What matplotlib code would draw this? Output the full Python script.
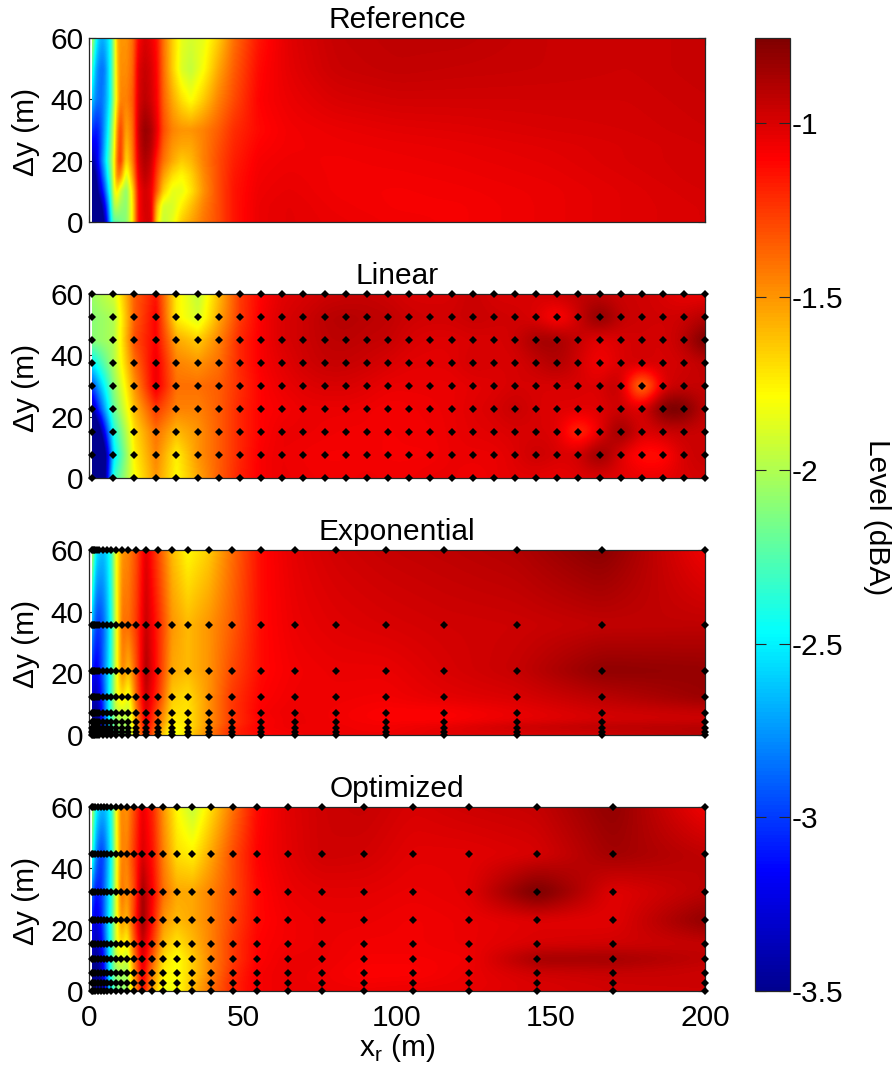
# Level maps for four receiver grids.
import numpy as np
import matplotlib
matplotlib.use("Agg")
import matplotlib.pyplot as plt
from matplotlib.cm import ScalarMappable
from matplotlib.colors import LinearSegmentedColormap, Normalize

plt.rcParams['font.family'] = ['Liberation Sans', 'DejaVu Sans']
plt.rcParams['mathtext.fontset'] = 'custom'
plt.rcParams['mathtext.rm'] = 'Liberation Sans'

# Reference panel: no receivers drawn, fine sampling of the field.
ref_x = [1, 1.5, 2, 3, 4, 5, 6, 7, 8, 9, 10, 12, 14, 16, 18, 20, 22, 24, 27, 30, 33, 37, 42, 47, 55, 65, 80, 100, 120, 150, 175, 200]
ref_y = [60, 50, 40, 30, 25, 20, 15, 10, 5, 0]
ref_levels = [
    [-1.95, -2.2, -2.4, -2.6, -2.7, -2.65, -2.55, -2.4, -2.0, -1.6, -1.5, -1.5, -1.4, -1.1, -1.0, -1.05, -1.15, -1.4, -1.65, -1.85, -1.9, -1.85, -1.65, -1.4, -1.15, -1.02, -.95, -.93, -.93, -.96, -.97, -.95],
    [-2.3, -2.5, -2.65, -2.8, -2.85, -2.8, -2.6, -2.4, -2.0, -1.65, -1.48, -1.48, -1.38, -1.02, -.95, -1.0, -1.12, -1.38, -1.65, -1.88, -1.95, -1.8, -1.55, -1.35, -1.12, -1.03, -.96, -.94, -.95, -.96, -.97, -.95],
    [-2.6, -2.7, -2.8, -2.85, -2.85, -2.75, -2.6, -2.4, -2.0, -1.7, -1.45, -1.45, -1.35, -1.0, -.92, -.98, -1.1, -1.35, -1.55, -1.7, -1.8, -1.65, -1.45, -1.3, -1.1, -1.05, -1.0, -.98, -.98, -.98, -.98, -.96],
    [-3.0, -3.05, -3.1, -3.05, -2.9, -2.7, -2.5, -2.2, -1.9, -1.5, -1.25, -1.55, -1.4, -.95, -.82, -.88, -1.05, -1.3, -1.45, -1.5, -1.5, -1.45, -1.35, -1.22, -1.12, -1.07, -1.05, -1.03, -1.02, -1.0, -.99, -.97],
    [-3.2, -3.2, -3.2, -3.1, -2.9, -2.65, -2.42, -2.15, -1.85, -1.45, -1.22, -1.62, -1.42, -.97, -.84, -.9, -1.1, -1.35, -1.5, -1.55, -1.55, -1.45, -1.32, -1.2, -1.1, -1.07, -1.06, -1.05, -1.04, -1.02, -1.0, -.98],
    [-3.4, -3.4, -3.3, -3.1, -2.85, -2.6, -2.35, -2.1, -1.8, -1.4, -1.2, -1.7, -1.45, -1.0, -.88, -.95, -1.2, -1.4, -1.55, -1.65, -1.6, -1.45, -1.3, -1.18, -1.08, -1.06, -1.07, -1.06, -1.05, -1.03, -1.0, -.98],
    [-3.6, -3.6, -3.5, -3.25, -3.0, -2.75, -2.45, -2.2, -1.8, -1.45, -1.45, -1.9, -1.55, -1.05, -.92, -1.0, -1.28, -1.52, -1.7, -1.78, -1.68, -1.48, -1.3, -1.16, -1.07, -1.05, -1.07, -1.07, -1.06, -1.04, -1.01, -.98],
    [-3.8, -3.8, -3.7, -3.4, -3.2, -2.95, -2.6, -2.3, -1.85, -1.7, -1.9, -2.1, -1.7, -1.1, -.98, -1.05, -1.35, -1.65, -1.85, -1.85, -1.72, -1.5, -1.3, -1.15, -1.06, -1.04, -1.07, -1.08, -1.07, -1.05, -1.02, -.99],
    [-4.0, -4.0, -3.9, -3.7, -3.5, -3.2, -2.85, -2.4, -2.0, -1.95, -2.05, -2.1, -1.75, -1.1, -.98, -1.02, -1.6, -1.9, -1.9, -1.75, -1.62, -1.45, -1.3, -1.15, -1.05, -1.03, -1.06, -1.08, -1.08, -1.05, -1.02, -1.0],
    [-4.0, -4.0, -4.0, -3.9, -3.7, -3.4, -3.0, -2.5, -2.2, -2.2, -2.15, -2.1, -1.75, -1.1, -1.0, -1.0, -1.7, -1.95, -1.85, -1.65, -1.55, -1.42, -1.3, -1.15, -1.05, -1.03, -1.05, -1.07, -1.08, -1.05, -1.02, -1.0],
]

# Linear receiver spacing.
lin_x = [1, 7.9, 14.7, 21.6, 28.4, 35.3, 42.2, 49, 55.9, 62.8, 69.6, 76.5, 83.4, 90.2, 97.1, 104, 110.8, 117.7, 124.6, 131.4, 138.3, 145.2, 152, 158.9, 165.8, 172.7, 179.5, 186.4, 193.2, 200]
lin_y = [60, 52.5, 45, 37.5, 30, 22.5, 15, 7.5, 0]
lin_levels = [
    [-2.05, -1.9, -1.35, -1.15, -1.75, -1.95, -1.6, -1.25, -1.1, -1.02, -1.0, -.97, -.96, -.95, -.97, -1.0, -1.0, -1.0, -.95, -1.0, -1.0, -1.0, -.97, -.93, -.93, -.97, -.97, -1.0, -1.05, -1.05],
    [-2.1, -2.0, -1.35, -1.1, -1.75, -1.9, -1.55, -1.25, -1.08, -1.0, -.97, -.92, -.9, -.92, -.93, -.97, -.98, -.98, -.95, -.97, -.98, -1.0, -1.15, -.98, -.75, -.95, -.97, -.98, -.97, -.9],
    [-2.1, -2.0, -1.3, -1.1, -1.55, -1.65, -1.45, -1.2, -1.08, -1.0, -.97, -.93, -.92, -.94, -.95, -1.0, -1.02, -1.02, -1.0, -1.0, -.98, -.85, -.85, -.95, -1.05, -1.0, -.98, -1.0, -.93, -.72],
    [-2.5, -2.0, -1.4, -1.05, -1.45, -1.5, -1.4, -1.2, -1.08, -1.03, -.98, -.95, -.95, -.97, -1.0, -1.03, -1.03, -1.03, -.98, -1.0, -1.0, -.95, -.88, -.98, -1.1, -1.0, -.98, -1.0, -.98, -.93],
    [-2.95, -2.1, -1.5, -1.05, -1.4, -1.4, -1.35, -1.22, -1.1, -1.05, -1.02, -1.0, -1.0, -1.02, -1.05, -1.05, -1.05, -1.05, -1.03, -1.02, -.99, -1.0, -1.0, -1.0, -1.02, -.88, -1.6, -.98, -.95, -.95],
    [-3.4, -2.2, -1.6, -1.25, -1.45, -1.45, -1.35, -1.2, -1.1, -1.08, -1.05, -1.05, -1.05, -1.06, -1.08, -1.07, -1.06, -1.05, -1.02, -1.0, -.94, -1.0, -1.02, -1.02, -1.03, -.95, -1.05, -.72, -.72, -.95],
    [-4.2, -2.4, -1.7, -1.4, -1.6, -1.5, -1.35, -1.2, -1.1, -1.05, -1.05, -1.06, -1.07, -1.07, -1.08, -1.07, -1.07, -1.05, -1.03, -1.02, -1.0, -1.0, -1.0, -1.28, -1.05, -.78, -1.03, -.97, -.95, -.97],
    [-5.0, -2.55, -1.75, -1.45, -1.75, -1.5, -1.35, -1.2, -1.08, -1.05, -1.07, -1.08, -1.08, -1.07, -1.08, -1.08, -1.08, -1.05, -1.05, -1.05, -1.02, -.95, -1.0, -1.0, -.78, -1.02, -1.15, -1.15, -.98, -.95],
    [-5.2, -2.35, -1.8, -1.5, -1.78, -1.55, -1.35, -1.18, -1.08, -1.05, -1.06, -1.07, -1.07, -1.06, -1.07, -1.07, -1.05, -1.05, -1.07, -1.05, -1.03, -1.03, -1.05, -1.02, -1.0, -1.03, -1.05, -1.05, -1.0, -.98],
]

# Exponential receiver spacing.
exp_x = [1, 1.2, 1.5, 1.8, 2.5, 3.3, 4.4, 5.7, 7.1, 8.7, 10.7, 12.7, 15.3, 18.4, 22.5, 26.9, 32, 38.8, 46.3, 55.8, 66.9, 80.1, 96.3, 115.4, 138.8, 166.5, 200]
exp_y = [60, 35.6, 20.9, 12.2, 7.2, 4.1, 2.2, 1.1, 0]
exp_levels = [
    [-1.95, -2.05, -2.25, -2.4, -2.55, -2.6, -2.65, -2.55, -2.35, -1.8, -1.5, -1.45, -1.3, -1.02, -1.3, -1.6, -1.78, -1.65, -1.4, -1.12, -1.03, -.98, -.95, -.93, -.9, -.78, -1.07],
    [-2.65, -2.75, -2.85, -2.9, -3.0, -3.0, -2.9, -2.7, -2.4, -1.85, -1.4, -1.4, -1.25, -.95, -1.2, -1.5, -1.6, -1.5, -1.35, -1.12, -1.05, -1.02, -1.0, -.98, -.97, -.94, -.93],
    [-3.05, -3.1, -3.2, -3.2, -3.2, -3.1, -2.9, -2.65, -2.35, -1.85, -1.45, -1.6, -1.3, -.88, -1.2, -1.55, -1.6, -1.5, -1.3, -1.12, -1.07, -1.05, -1.05, -1.0, -.95, -.8, -.82],
    [-3.25, -3.3, -3.4, -3.4, -3.35, -3.2, -3.0, -2.65, -2.3, -1.85, -1.7, -1.85, -1.35, -.95, -1.25, -1.65, -1.7, -1.5, -1.25, -1.1, -1.06, -1.06, -1.07, -1.03, -1.0, -.92, -.83],
    [-3.4, -3.45, -3.5, -3.5, -3.5, -3.35, -3.05, -2.65, -2.3, -1.95, -1.9, -1.95, -1.45, -1.0, -1.35, -1.7, -1.72, -1.5, -1.25, -1.08, -1.05, -1.07, -1.1, -1.1, -1.05, -.98, -.95],
    [-3.5, -3.55, -3.6, -3.6, -3.55, -3.4, -3.1, -2.7, -2.3, -2.05, -2.0, -2.0, -1.5, -1.05, -1.4, -1.75, -1.72, -1.5, -1.25, -1.1, -1.05, -1.07, -1.1, -1.1, -1.05, -1.0, -.98],
    [-3.6, -3.6, -3.6, -3.6, -3.6, -3.45, -3.15, -2.75, -2.35, -2.1, -2.05, -2.05, -1.55, -1.08, -1.45, -1.8, -1.72, -1.48, -1.22, -1.08, -1.05, -1.05, -1.05, -1.0, -.9, -.85, -.85],
    [-3.6, -3.6, -3.6, -3.6, -3.6, -3.5, -3.2, -2.8, -2.4, -2.15, -2.1, -2.05, -1.55, -1.1, -1.5, -1.82, -1.7, -1.45, -1.2, -1.1, -1.07, -1.08, -1.1, -1.05, -1.03, -1.0, -.95],
    [-3.6, -3.6, -3.6, -3.6, -3.6, -3.5, -3.25, -2.85, -2.45, -2.2, -2.1, -2.05, -1.6, -1.1, -1.55, -1.85, -1.7, -1.45, -1.2, -1.12, -1.07, -1.05, -1.05, -1.03, -1.02, -.98, -.9],
]

# Optimized receiver spacing.
opt_x = [1, 1.4, 1.9, 2.8, 3.8, 4.9, 5.9, 7.3, 8.7, 10.4, 12.2, 14.5, 17.3, 20.6, 24.1, 28.5, 33.6, 39.5, 46.8, 54.5, 64.6, 75.6, 89.3, 105.1, 123.3, 145.5, 170.1, 200]
opt_y = [60, 44.6, 32.2, 23, 15.4, 10.3, 5.9, 2.7, 0]
opt_levels = [
    [-1.95, -2.15, -2.4, -2.55, -2.65, -2.65, -2.55, -2.35, -1.8, -1.45, -1.5, -1.3, -1.05, -1.2, -1.5, -1.78, -1.95, -1.7, -1.4, -1.12, -1.02, -.97, -.95, -1.0, -.97, -.95, -.8, -1.07],
    [-2.3, -2.5, -2.7, -2.9, -3.0, -2.9, -2.7, -2.4, -1.85, -1.45, -1.45, -1.25, -1.0, -1.15, -1.45, -1.7, -1.75, -1.55, -1.3, -1.1, -1.03, -.97, -.98, -1.03, -1.03, -1.0, -.85, -.93],
    [-2.85, -2.95, -3.1, -3.1, -3.05, -2.85, -2.65, -2.35, -1.85, -1.4, -1.5, -1.3, -.85, -1.1, -1.4, -1.55, -1.55, -1.45, -1.3, -1.12, -1.05, -1.03, -1.03, -1.05, -1.03, -.72, -1.03, -.92],
    [-3.1, -3.2, -3.3, -3.2, -3.1, -2.85, -2.6, -2.3, -1.85, -1.5, -1.6, -1.25, -.83, -1.15, -1.5, -1.6, -1.55, -1.45, -1.28, -1.12, -1.07, -1.05, -1.05, -1.07, -1.05, -1.02, -1.03, -.8],
    [-3.25, -3.3, -3.4, -3.35, -3.2, -2.95, -2.65, -2.3, -1.85, -1.7, -1.8, -1.35, -.95, -1.25, -1.6, -1.72, -1.6, -1.45, -1.25, -1.1, -1.07, -1.05, -1.07, -1.07, -1.05, -1.0, -.98, -.95],
    [-3.4, -3.45, -3.5, -3.45, -3.3, -3.05, -2.7, -2.3, -1.95, -1.85, -1.95, -1.45, -1.0, -1.35, -1.7, -1.8, -1.65, -1.45, -1.25, -1.1, -1.05, -1.05, -1.08, -1.08, -1.07, -.85, -.85, -.93],
    [-3.5, -3.55, -3.55, -3.5, -3.4, -3.1, -2.75, -2.3, -2.05, -2.0, -2.05, -1.5, -1.05, -1.45, -1.75, -1.8, -1.65, -1.45, -1.22, -1.08, -1.05, -1.06, -1.1, -1.1, -1.05, -.97, -.95, -.97],
    [-3.55, -3.55, -3.55, -3.55, -3.5, -3.2, -2.8, -2.35, -2.1, -2.05, -2.05, -1.55, -1.08, -1.5, -1.8, -1.8, -1.62, -1.42, -1.2, -1.08, -1.05, -1.06, -1.08, -1.07, -1.05, -1.0, -.97, -.95],
    [-3.6, -3.6, -3.6, -3.6, -3.55, -3.3, -2.85, -2.4, -2.15, -2.1, -2.05, -1.55, -1.1, -1.55, -1.85, -1.8, -1.6, -1.4, -1.2, -1.08, -1.05, -1.05, -1.06, -1.05, -1.04, -1.0, -.98, -.98],
]

y_ticks = [0, 20, 40, 60]
x_ticks = [0, 50, 100, 150, 200]
bar_ticks = [-3.5, -3, -2.5, -2, -1.5, -1]
bar_labels = ['-3.5', '-3', '-2.5', '-2', '-1.5', '-1']

V_MIN = -3.5
V_MAX = -0.755
W, H = 893, 1072
FONT = 21.5

# Same anchors as the old MATLAB jet, it starts a bit brighter than matplotlib's.
jet = LinearSegmentedColormap.from_list('mjet', [
    (0, (0, 0, 0.5625)), (0.125, (0, 0, 1)), (0.375, (0, 1, 1)),
    (0.625, (1, 1, 0)), (0.875, (1, 0, 0)), (1, (0.5, 0, 0))], N=256)
norm = Normalize(V_MIN, V_MAX)


# Make an axes from pixel edges.
def pixel_axes(fig, left, top, right, bottom):
    return fig.add_axes([left / W, 1 - bottom / H, (right - left) / W, (bottom - top) / H])


# Gaussian blur along one axis of a 2d array, padded with the edge values.
def blur(field, sigma, axis):
    half = int(3 * sigma)
    kernel = np.exp(-0.5 * (np.arange(-half, half + 1) / sigma) ** 2)
    kernel /= kernel.sum()
    pad = [(half, half) if a == axis else (0, 0) for a in range(2)]
    padded = np.pad(field, pad, mode='edge')
    return np.apply_along_axis(lambda line: np.convolve(line, kernel, mode='valid'), axis, padded)


# Put the table on a pixel grid so the map looks smooth, not faceted.
# Near the source the field changes fast, so only blur hard further out.
def to_image(x, y, levels):
    fine_x = np.linspace(1, 200, 614)
    fine_y = np.linspace(60, 0, 184)
    table = np.array(levels)
    rows = np.array([np.interp(fine_x, x, row) for row in table])
    field = np.array([np.interp(fine_y, y[::-1], rows[::-1, j]) for j in range(len(fine_x))]).T
    sharp = blur(blur(field, 1.2, 1), 1.2, 0)
    soft = blur(blur(field, 8, 1), 4, 0)
    weight = np.clip((fine_x - 45) / 25, 0, 1)
    return sharp * (1 - weight) + soft * weight


# One map with its title and, if given, the receivers.
def draw_panel(ax, x, y, levels, title, show_points, show_x):
    ax.imshow(to_image(x, y, levels), extent=(1, 200, 0, 60), aspect='auto', cmap=jet, norm=norm,
              interpolation='bilinear', zorder=1)
    if show_points:
        xx, yy = np.meshgrid(x, y)
        ax.plot(xx.ravel(), yy.ravel(), 'D', color='black', ms=3.8, mew=0, clip_on=False, zorder=5)
    ax.set_xlim(0, 200)
    ax.set_ylim(0, 60)
    ax.set_xticks(x_ticks)
    ax.set_yticks(y_ticks)
    ax.set_axisbelow(True)
    ax.tick_params(direction='in', length=5, width=0.8, labelsize=FONT, top=True, right=True, color='#262626')
    ax.tick_params(axis='x', pad=9)
    ax.tick_params(axis='y', pad=4)
    if not show_x:
        ax.tick_params(labelbottom=False)
    ax.set_ylabel('\u0394y (m)', fontsize=FONT)
    ax.yaxis.set_label_coords(-0.08, 0.49)
    ax.set_title(title, fontsize=FONT, pad=7)
    for side in ax.spines.values():
        side.set_linewidth(0.9)
        side.set_color('#262626')


def main():
    fig = plt.figure(figsize=(W / 100, H / 100), dpi=100)
    ax1 = pixel_axes(fig, 89, 38, 705, 222)
    ax2 = pixel_axes(fig, 89, 294, 705, 478)
    ax3 = pixel_axes(fig, 89, 550, 705, 735)
    ax4 = pixel_axes(fig, 89, 807, 705, 991)
    draw_panel(ax1, ref_x, ref_y, ref_levels, 'Reference', False, False)
    draw_panel(ax2, lin_x, lin_y, lin_levels, 'Linear', True, False)
    draw_panel(ax3, exp_x, exp_y, exp_levels, 'Exponential', True, False)
    draw_panel(ax4, opt_x, opt_y, opt_levels, 'Optimized', True, True)
    ax4.set_xlabel('x$_{\\mathrm{r}}$ (m)', fontsize=FONT, labelpad=0)

    # Colorbar with the ticks pointing in from both sides.
    cax = pixel_axes(fig, 755, 38, 790, 991)
    bar = fig.colorbar(ScalarMappable(norm=norm, cmap=jet), cax=cax)
    bar.set_ticks(bar_ticks)
    bar.set_ticklabels(bar_labels)
    bar.ax.tick_params(direction='in', length=8, width=0.8, labelsize=FONT, left=True, right=True, pad=1, color='#262626')
    bar.outline.set_linewidth(0.9)
    bar.outline.set_edgecolor('#262626')
    fig.text(877 / W, 1 - 517 / H, 'Level (dBA)', fontsize=FONT, rotation=270, ha='center', va='center')

    fig.savefig('out.png', dpi=100)


if __name__ == "__main__":
    main()
